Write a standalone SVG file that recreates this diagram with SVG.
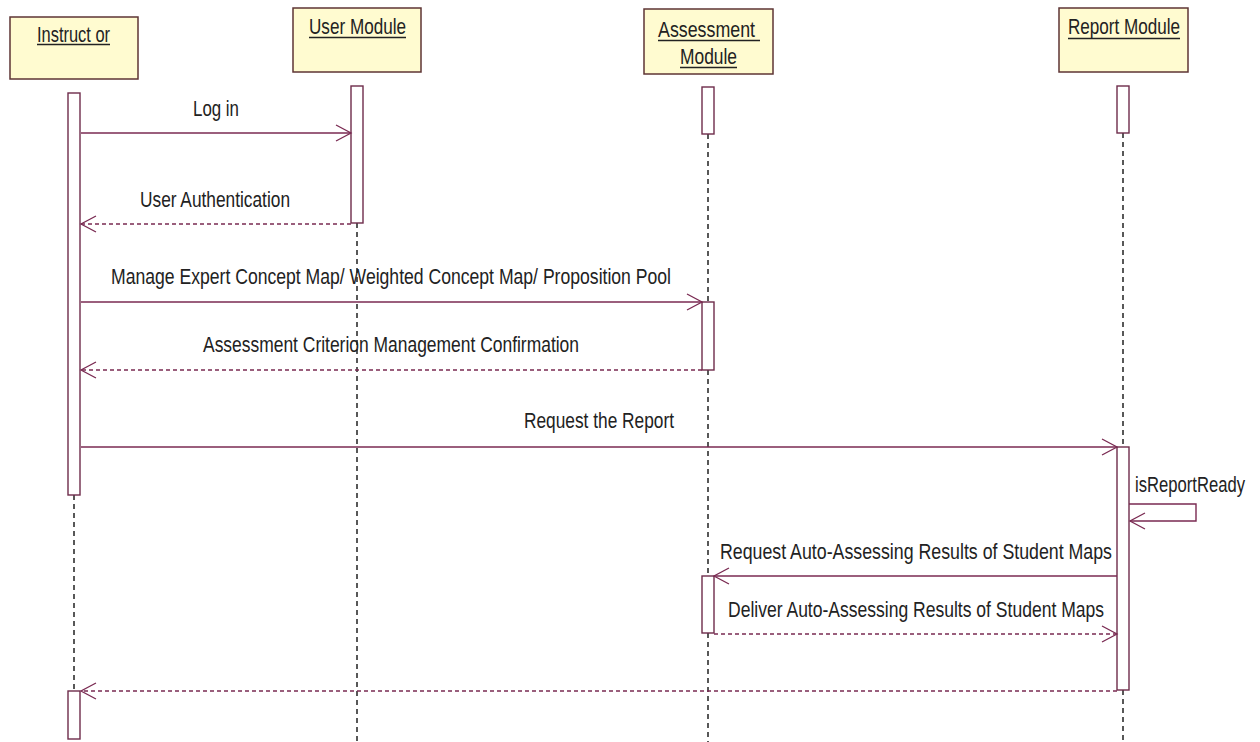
<svg xmlns="http://www.w3.org/2000/svg" width="1260" height="742" viewBox="0 0 1260 742">
<defs>
<marker id="open" markerUnits="userSpaceOnUse" markerWidth="20" markerHeight="20" viewBox="-16 -10 20 20" refX="0" refY="0" orient="auto" overflow="visible">
<path d="M-15,-8 L0,0 L-15,8" fill="none" stroke="#7a2a52" stroke-width="1.3" stroke-dasharray="none"/>
</marker>
<style>
.box{fill:#fffbd0;stroke:#5e3535;stroke-width:1.5}
.act{fill:#ffffff;stroke:#6e2c4a;stroke-width:1.4}
.life{stroke:#222;stroke-width:1.5;stroke-dasharray:5,4;fill:none}
.msg{stroke:#7a2a52;stroke-width:1.4;fill:none;marker-end:url(#open)}
.ret{stroke:#7a2a52;stroke-width:1.3;fill:none;stroke-dasharray:4,3;marker-end:url(#open)}
.t{font-family:"Liberation Sans",Arial,sans-serif;font-size:22px;fill:#222}
.ul{stroke:#222;stroke-width:1.5}
</style>
</defs>
<rect width="1260" height="742" fill="#ffffff"/>

<g id="instructor">
<rect class="box" x="10" y="17" width="128" height="62"/>
<text class="t" x="37" y="42" textLength="73" lengthAdjust="spacingAndGlyphs">Instruct or</text>
<line class="ul" x1="37" y1="44.5" x2="110" y2="44.5"/>
<line class="life" x1="74" y1="495" x2="74" y2="691"/>
<rect class="act" x="68" y="93" width="12" height="402"/>
<rect class="act" x="68" y="691" width="12" height="48"/>
</g>

<g id="user-module">
<rect class="box" x="293" y="8" width="128" height="64"/>
<text class="t" x="309" y="34" textLength="97" lengthAdjust="spacingAndGlyphs">User Module</text>
<line class="ul" x1="309" y1="37.5" x2="406" y2="37.5"/>
<line class="life" x1="357" y1="223" x2="357" y2="742"/>
<rect class="act" x="351" y="86" width="12" height="137"/>
</g>

<g id="assessment-module">
<rect class="box" x="644" y="9" width="129" height="65"/>
<text class="t" x="658" y="37" textLength="97" lengthAdjust="spacingAndGlyphs">Assessment</text>
<line class="ul" x1="658" y1="40.5" x2="760" y2="40.5"/>
<text class="t" x="680" y="64" textLength="57" lengthAdjust="spacingAndGlyphs">Module</text>
<line class="ul" x1="680" y1="67.5" x2="737" y2="67.5"/>
<line class="life" x1="708" y1="134" x2="708" y2="302"/>
<line class="life" x1="708" y1="370" x2="708" y2="576"/>
<line class="life" x1="708" y1="633" x2="708" y2="742"/>
<rect class="act" x="702" y="87" width="12" height="47"/>
<rect class="act" x="702" y="302" width="12" height="68"/>
<rect class="act" x="702" y="576" width="12" height="57"/>
</g>

<g id="report-module">
<rect class="box" x="1059" y="8" width="129" height="64"/>
<text class="t" x="1068" y="34" textLength="112" lengthAdjust="spacingAndGlyphs">Report Module</text>
<line class="ul" x1="1068" y1="38.5" x2="1180" y2="38.5"/>
<line class="life" x1="1123" y1="133" x2="1123" y2="447"/>
<line class="life" x1="1123" y1="690" x2="1123" y2="742"/>
<rect class="act" x="1117" y="86" width="12" height="47"/>
<rect class="act" x="1117" y="447" width="12" height="243"/>
</g>

<g id="connectors">
<line class="msg" x1="81" y1="133" x2="351" y2="133"/>
<text class="t" x="193" y="116" textLength="46" lengthAdjust="spacingAndGlyphs">Log in</text>

<line class="ret" x1="351" y1="224" x2="81" y2="224"/>
<text class="t" x="140" y="207" textLength="150" lengthAdjust="spacingAndGlyphs">User Authentication</text>

<line class="msg" x1="81" y1="302" x2="702" y2="302"/>
<text class="t" x="111" y="284" textLength="560" lengthAdjust="spacingAndGlyphs">Manage Expert Concept Map/ Weighted Concept Map/ Proposition Pool</text>

<line class="ret" x1="702" y1="370" x2="81" y2="370"/>
<text class="t" x="203" y="352" textLength="376" lengthAdjust="spacingAndGlyphs">Assessment Criterion Management Confirmation</text>

<line class="msg" x1="81" y1="447" x2="1117" y2="447"/>
<text class="t" x="524" y="428" textLength="150" lengthAdjust="spacingAndGlyphs">Request the Report</text>

<path class="msg" d="M1129,504 H1196 V521 H1130"/>
<text class="t" x="1135" y="492" textLength="110" lengthAdjust="spacingAndGlyphs">isReportReady</text>

<line class="msg" x1="1117" y1="576" x2="714" y2="576"/>
<text class="t" x="720" y="559" textLength="392" lengthAdjust="spacingAndGlyphs">Request Auto-Assessing Results of Student Maps</text>

<line class="ret" x1="714" y1="634" x2="1117" y2="634"/>
<text class="t" x="728" y="617" textLength="376" lengthAdjust="spacingAndGlyphs">Deliver Auto-Assessing Results of Student Maps</text>

<line class="ret" x1="1117" y1="691" x2="81" y2="691"/>
</g>
</svg>
